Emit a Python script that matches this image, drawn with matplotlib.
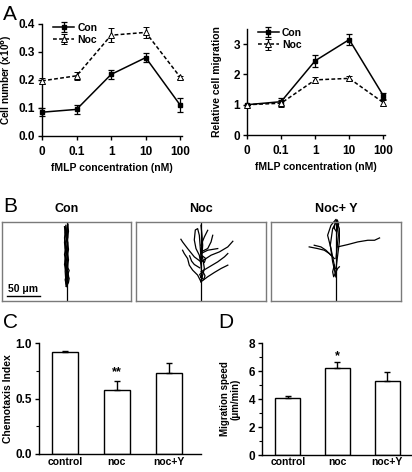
import matplotlib
matplotlib.use("Agg")
import matplotlib.pyplot as plt
import numpy as np

plt.rcParams['font.family'] = ['Liberation Sans', 'DejaVu Sans']
plt.rcParams['font.weight'] = 'bold'

# ---------------- data ----------------
conc_labels = ['0', '0.1', '1', '10', '100']

cellnum_con = [0.085, 0.095, 0.22, 0.28, 0.11]
cellnum_con_err = [0.015, 0.015, 0.015, 0.015, 0.025]
cellnum_noc = [0.197, 0.215, 0.36, 0.37, 0.21]
cellnum_noc_err = [0.01, 0.015, 0.025, 0.02, 0.005]

relmig_con = [1.0, 1.1, 2.45, 3.15, 1.3]
relmig_con_err = [0.0, 0.12, 0.2, 0.18, 0.1]
relmig_noc = [1.0, 1.05, 1.82, 1.87, 1.07]
relmig_noc_err = [0.0, 0.12, 0.1, 0.08, 0.1]

groups = ['control', 'noc', 'noc+Y']
chemo_index = [0.92, 0.58, 0.73]
chemo_err = [0.01, 0.08, 0.09]
speed = [4.1, 6.2, 5.3]
speed_err = [0.15, 0.45, 0.6]

track_titles = ['Con', 'Noc', 'Noc+ Y']

# cell tracks (um), origin at bottom centre of each box
con_tracks = [
    [(0, 22), (1, 30), (-1, 40), (2, 52), (1, 65), (3, 78), (1, 92), (3, 105), (2, 115)],
    [(0, 22), (-1, 35), (1, 48), (-2, 60), (0, 72), (-2, 85), (1, 98), (-1, 110)],
    [(0, 22), (2, 28), (3, 38), (1, 50), (3, 62), (1, 74), (2, 88), (0, 100), (1, 113)],
    [(0, 22), (-1, 30), (-2, 45), (-1, 58), (-3, 70), (-1, 82), (-3, 95), (-1, 106)],
    [(0, 22), (1, 35), (0, 50), (2, 66), (0, 80), (2, 96), (1, 108), (2, 116)],
    [(0, 22), (-2, 32), (1, 44), (-1, 56), (1, 68), (-2, 80), (0, 92), (-2, 103), (-1, 114)],
    [(0, 22), (3, 28), (4, 34), (2, 40), (4, 46), (1, 52)],
    [(0, 40), (-3, 55), (-1, 70), (-3, 88), (-2, 100), (-3, 112)],
]
noc_tracks = [
    [(0, 29), (1.5, 37), (0, 54), (-2.5, 69), (-7.5, 79), (-10, 92), (-8.5, 107), (-5, 109), (-2.5, 99), (-1, 79), (0, 64)],
    [(0, 29), (-5, 39), (-12.5, 46.5), (-17.5, 54), (-20, 64), (-25, 71.5), (-27.5, 76.5)],
    [(0, 59), (-10, 66.5), (-20, 79), (-27.5, 89), (-30, 93)],
    [(0, 29), (10, 36.5), (20, 43), (30, 49), (40, 54)],
    [(0, 44), (12.5, 51.5), (25, 59), (35, 66.5), (40, 71.5)],
    [(0, 59), (15, 69), (27.5, 74), (40, 81.5), (47.5, 90)],
    [(0, 74), (10, 79), (15, 89), (17.5, 99)],
    [(0, 84), (5, 96.5), (10, 106.5)],
    [(0, 71.5), (10, 76.5), (25, 79)],
    [(0, 31.5), (2.5, 39), (5, 49), (3.5, 59), (1.5, 69), (2.5, 84), (1.5, 99), (0, 114)],
    [(0, 36), (4, 32), (6, 38), (3, 44), (-2, 40), (0, 36)],
    [(0, 62), (5, 58), (7, 64), (2, 68), (0, 62)],
    [(-2, 50), (-10, 55), (-14, 60), (-17, 68)],
]
nocy_tracks = [
    [(0, 36.5), (-2.5, 54), (-7.5, 79), (-12.5, 99), (-7.5, 114), (0, 123), (5, 109), (5, 89), (2.5, 69), (0, 49)],
    [(0, 36.5), (-5, 59), (-8.5, 84), (-5, 109), (1.5, 121.5), (3.5, 99), (0, 64)],
    [(-2.5, 64), (-10, 71.5), (-17.5, 76.5), (-27.5, 79), (-40, 81.5)],
    [(-7.5, 69), (-15, 76.5), (-22.5, 81.5), (-32.5, 84)],
    [(2.5, 81.5), (17.5, 85), (32.5, 89), (47.5, 91.5), (57.5, 91.5), (65, 95)],
    [(-2.5, 54), (-5, 44), (-3.5, 36.5), (2.5, 49), (5, 51.5)],
    [(-3, 110), (-1, 118), (2, 122), (4, 116), (1, 104), (-3, 110)],
]

# ---------------- figure ----------------
W, H = 412, 472
fig = plt.figure(figsize=(W / 100, H / 100), dpi=100)
TICK_FS = 8.5


def ax_px(x0, y0, x1, y1):
    return fig.add_axes([x0 / W, 1 - y1 / H, (x1 - x0) / W, (y1 - y0) / H])


def style_axes(ax):
    for s in ['top', 'right']:
        ax.spines[s].set_visible(False)
    for s in ['left', 'bottom']:
        ax.spines[s].set_linewidth(1.0)
    ax.tick_params(direction='out', length=3, width=1.0, labelsize=TICK_FS, pad=2)
    for lab in ax.get_xticklabels() + ax.get_yticklabels():
        lab.set_fontweight('bold')


xpos = np.arange(len(conc_labels))


def line_panel(ax, con, con_err, noc, noc_err):
    ax.errorbar(xpos, con, yerr=con_err, color='black', lw=1.1, marker='s', ms=3.5,
                mfc='black', mec='black', capsize=2, elinewidth=0.9, capthick=0.9,
                label='Con', clip_on=False, zorder=3)
    ax.errorbar(xpos, noc, yerr=noc_err, color='black', lw=1.1, ls=(0, (2.5, 1.5)), marker='^',
                ms=3.8, mfc='white', mec='black', mew=0.7, capsize=2, elinewidth=0.9,
                capthick=0.9, label='Noc', clip_on=False, zorder=3)
    ax.set_xticks(xpos)
    ax.set_xticklabels(conc_labels)
    ax.set_xlim(0, 4.05)
    ax.set_xlabel('fMLP concentration (nM)', fontsize=7.5, fontweight='bold', labelpad=4)
    style_axes(ax)
    ax.tick_params(axis='x', pad=4)
    leg = ax.legend(loc='upper left', bbox_to_anchor=(0.05, 1.05), frameon=False,
                    fontsize=7.5, handlelength=2.0, handletextpad=0.3, labelspacing=0.2,
                    borderaxespad=0.0)
    for t in leg.get_texts():
        t.set_fontweight('bold')


# Panel A left
axA1 = ax_px(42, 24, 182, 136)
line_panel(axA1, cellnum_con, cellnum_con_err, cellnum_noc, cellnum_noc_err)
axA1.set_ylim(0, 0.4)
axA1.set_yticks([0.0, 0.1, 0.2, 0.3, 0.4])
axA1.set_yticklabels(['0.0', '0.1', '0.2', '0.3', '0.4'], fontweight='bold')
axA1.set_ylabel('Cell number (x10$^{\\mathbf{6}}$)', fontsize=7.2, fontweight='bold', labelpad=3)

# Panel A right
axA2 = ax_px(247, 29, 385, 135)
line_panel(axA2, relmig_con, relmig_con_err, relmig_noc, relmig_noc_err)
axA2.set_ylim(0, 3.5)
axA2.set_yticks([0, 1, 2, 3])
axA2.set_yticklabels(['0', '1', '2', '3'], fontweight='bold')
axA2.set_ylabel('Relative cell migration', fontsize=7.5, fontweight='bold', labelpad=8)

fig.text(3 / W, 1 - 15 / H, 'A', fontsize=15, fontweight='normal', va='center', ha='left')

# Panel B
boxes = [(2, 222, 131, 301), (136, 222, 266, 301), (271, 222, 401, 301)]
all_tracks = [con_tracks, noc_tracks, nocy_tracks]
for (x0, y0, x1, y1), tracks, title in zip(boxes, all_tracks, track_titles):
    ax = ax_px(x0, y0, x1, y1)
    ax.set_xlim(-97, 97)
    ax.set_ylim(0, 119)
    ax.set_xticks([])
    ax.set_yticks([])
    for s in ax.spines.values():
        s.set_color('#7a7a7a')
        s.set_linewidth(1.0)
    ax.plot([0, 0], [0, 119], color='black', lw=0.9)
    for tr in tracks:
        arr = np.array(tr, dtype=float)
        ax.plot(arr[:, 0], arr[:, 1], color='black', lw=0.9, clip_on=False)
    ax.set_title(title, fontsize=9, fontweight='bold', pad=7)
    if title == 'Con':
        ax.plot([-90, -40], [7.5, 7.5], color='black', lw=1.0)
        ax.text(-65, 10, '50 \u03bcm', fontsize=7.5, fontweight='bold', ha='center', va='bottom')

fig.text(3 / W, 1 - 207 / H, 'B', fontsize=15, fontweight='normal', va='center', ha='left')

# Panel C
axC = ax_px(39, 343, 201, 454)
xb = np.arange(len(groups))
axC.bar(xb, chemo_index, width=0.5, color='white', edgecolor='black', lw=1.0,
        yerr=[[0] * 3, chemo_err], error_kw=dict(ecolor='black', elinewidth=1.0, capsize=2.5, capthick=1.0))
axC.set_xlim(-0.5, 2.62)
axC.set_ylim(0, 1.0)
axC.set_yticks([0.0, 0.5, 1.0])
axC.set_yticklabels(['0.0', '0.5', '1.0'])
axC.set_yticks([0.25, 0.75], minor=True)
axC.set_xticks(xb)
axC.set_xticklabels(groups)
style_axes(axC)
axC.tick_params(axis='x', length=0, pad=2, labelsize=7.5)
axC.tick_params(axis='y', which='minor', length=2, width=0.8)
axC.set_ylabel('Chemotaxis Index', fontsize=7.5, fontweight='bold', labelpad=2)
axC.text(1, 0.68, '**', fontsize=9, fontweight='bold', ha='center', va='bottom')
fig.text(3 / W, 1 - 323 / H, 'C', fontsize=15, fontweight='normal', va='center', ha='left')

# Panel D
axD = ax_px(262, 343, 411, 455)
axD.bar(xb, speed, width=0.5, color='white', edgecolor='black', lw=1.0,
        yerr=[[0] * 3, speed_err], error_kw=dict(ecolor='black', elinewidth=1.0, capsize=2.5, capthick=1.0))
axD.set_xlim(-0.52, 2.48)
axD.set_ylim(0, 8)
axD.set_yticks([0, 2, 4, 6, 8])
axD.set_yticklabels(['0', '2', '4', '6', '8'])
axD.set_yticks([1, 3, 5, 7], minor=True)
axD.set_xticks(xb)
axD.set_xticklabels(groups)
style_axes(axD)
axD.tick_params(axis='x', length=0, pad=1.5, labelsize=7.5)
axD.tick_params(axis='y', which='minor', length=2, width=0.8)
axD.set_ylabel('Migration speed\n(\u03bcm/min)', fontsize=7, fontweight='bold', labelpad=6,
               linespacing=1.0)
axD.text(1, 6.6, '*', fontsize=9, fontweight='bold', ha='center', va='bottom')
fig.text(218 / W, 1 - 322 / H, 'D', fontsize=15, fontweight='normal', va='center', ha='left')

fig.savefig('out.png', dpi=100)
